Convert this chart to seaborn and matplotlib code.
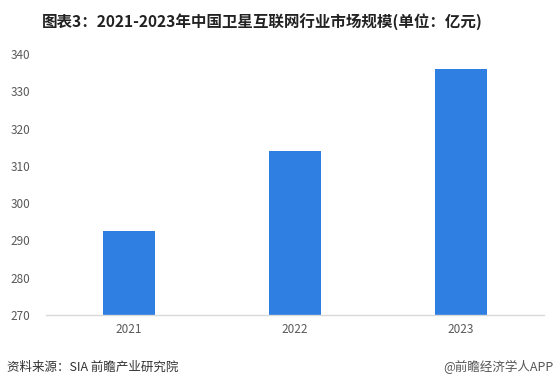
import matplotlib
matplotlib.use("Agg")
import matplotlib.pyplot as plt
import seaborn as sns
import pandas as pd

years = ["2021", "2022", "2023"]
values = [292.5, 314, 336]
yticks = [270, 280, 290, 300, 310, 320, 330, 340]

sns.set_theme(style="white")
plt.rcParams["font.family"] = ["Noto Sans CJK SC", "DejaVu Sans"]

df = pd.DataFrame({"year": years, "value": values})

fig = plt.figure(figsize=(5.58, 3.92), dpi=100)
ax = fig.add_axes([46/558, 1-315/392, (544-46)/558, (315-54)/392])
sns.barplot(data=df, x="year", y="value", color="#2F7FE2", width=0.31,
            saturation=1, linewidth=0, ax=ax)
ax.set_ylim(270, 340)
ax.set_yticks(yticks)
ax.set_xlim(-0.5, 2.5)
ax.set_xlabel("")
ax.set_ylabel("")
for s in ["top", "right", "left"]:
    ax.spines[s].set_visible(False)
ax.spines["bottom"].set_color("#D9D9D9")
ax.spines["bottom"].set_linewidth(1)
ax.tick_params(axis="both", length=0, labelsize=8.5, colors="#595959")
ax.tick_params(axis="y", pad=11)
ax.tick_params(axis="x", pad=6)

fig.text(262/558, 1-22/392, "图表3：2021-2023年中国卫星互联网行业市场规模(单位：亿元)",
         ha="center", va="center", fontsize=11.2, fontweight="bold", color="#222222")
fig.text(7/558, 1-367/392, "资料来源：SIA 前瞻产业研究院", ha="left", va="center",
         fontsize=9, color="#333333")
fig.text(553/558, 1-367/392, "@前瞻经济学人APP", ha="right", va="center",
         fontsize=9, color="#555555")

fig.savefig("out.png", dpi=100)
